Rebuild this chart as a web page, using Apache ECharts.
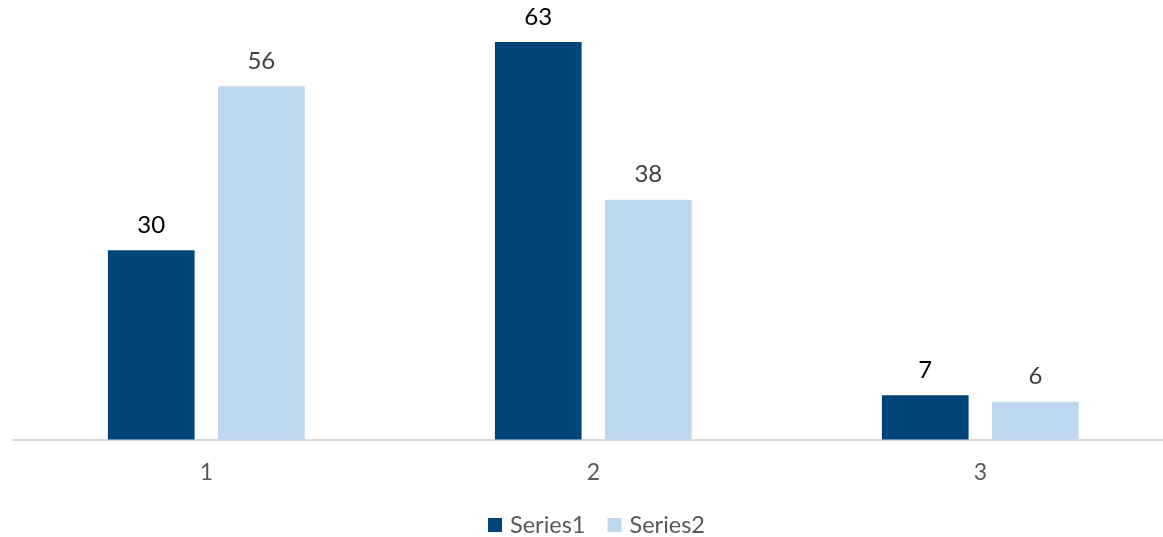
<!DOCTYPE html>
<html><head><meta charset="utf-8">
<script src="https://cdn.jsdelivr.net/npm/echarts@6/dist/echarts.min.js"></script>
<style>html,body{margin:0;padding:0;background:#fff}#c{width:1163px;height:537px}</style>
</head><body><div id="c"></div>
<script>
var categories = ['1', '2', '3'];
var series1 = [30, 63, 7];
var series2 = [56, 38, 6];
var seriesNames = ['Series1', 'Series2'];

var FONT = 'Lato';
var chart = echarts.init(document.getElementById('c'));
chart.setOption({
  animation: false,
  grid: { left: 12.8, width: 1161, top: 42, bottom: 97.5, containLabel: false, outerBoundsMode: 'none' },
  legend: {
    data: seriesNames, top: 513, left: 488, padding: 0,
    itemWidth: 14, itemHeight: 14, itemGap: 22, icon: 'rect',
    textStyle: { fontFamily: FONT, fontSize: 23.5, color: '#595959', padding: [0, 0, 0, 3] }
  },
  xAxis: {
    type: 'category', data: categories,
    axisLine: { lineStyle: { color: '#d9d9d9', width: 2 } },
    axisTick: { show: false },
    axisLabel: { fontFamily: FONT, fontSize: 23, color: '#595959', margin: 22 }
  },
  yAxis: {
    type: 'value', min: 0, max: 63, show: false, splitLine: { show: false }
  },
  series: [
    { name: seriesNames[0], type: 'bar', data: series1, barWidth: 86.7, barGap: '27%',
      itemStyle: { color: '#00457A' },
      label: { show: true, position: 'top', distance: 13, fontFamily: FONT, fontSize: 24, color: '#000000' } },
    { name: seriesNames[1], type: 'bar', data: series2, barWidth: 86.7,
      itemStyle: { color: '#BDD7EE' },
      label: { show: true, position: 'top', distance: 13, fontFamily: FONT, fontSize: 24, color: '#404040' } }
  ]
});
</script></body></html>
